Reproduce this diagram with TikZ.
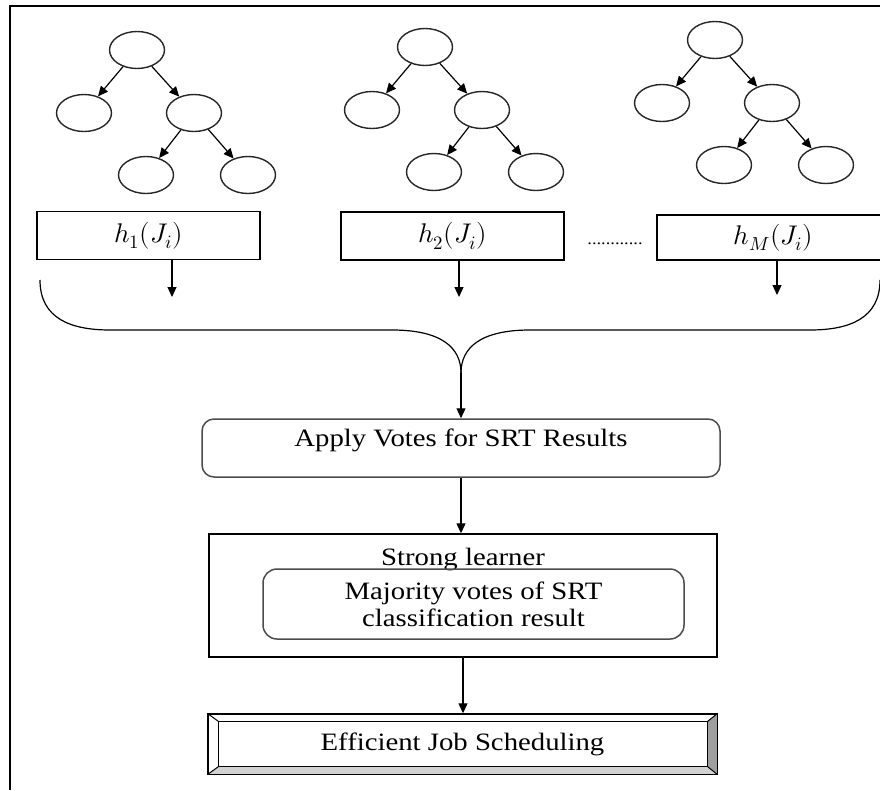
\documentclass[tikz,border=0pt]{standalone}
\usepackage{fontspec}
\usepackage{unicode-math}
\setmainfont{Liberation Serif}[FakeStretch=1.15]
\usetikzlibrary{positioning, arrows.meta, shapes.geometric, calc}

\begin{document}
\begin{tikzpicture}[
    x=1pt, y=-1pt,
    leaf/.style={draw=black!85, ellipse, line width=1.4pt, minimum width=55pt, minimum height=37pt, inner sep=0pt},
    hbox/.style={draw, rectangle, line width=1.2pt, minimum width=223pt, minimum height=48pt, inner sep=0pt, font=\fontsize{27}{30}\selectfont},
    rbox/.style={draw=black!70, rectangle, rounded corners=12pt, line width=1.5pt, align=center, inner sep=0pt, font=\fontsize{25}{27}\selectfont},
    sbox/.style={draw, rectangle, line width=1.4pt, inner sep=0pt, font=\fontsize{25}{27}\selectfont},
    arr/.style={-{Triangle[length=10pt, width=9pt]}, line width=1.2pt}
]
    \useasboundingbox (0,0) rectangle (880,790);
    \clip (0,0) rectangle (880,790);
    \draw[line width=1.3pt] (10,790) -- (10,6) -- (880,6);

    \foreach \t/\rx/\ry in {1/137/50, 2/425/47, 3/715/40} {
        \node[leaf] (root\t) at (\rx,\ry) {};
        \node[leaf] (lc\t) at ($(root\t)+(-53,63)$) {};
        \node[leaf] (rc\t) at ($(root\t)+(57,63)$) {};
        \node[leaf] (ga\t) at ($(root\t)+(9,125)$) {};
        \node[leaf] (gb\t) at ($(root\t)+(111,125)$) {};
        \draw[arr] (root\t) -- (lc\t);
        \draw[arr] (root\t) -- (rc\t);
        \draw[arr] (rc\t) -- (ga\t);
        \draw[arr] (rc\t) -- (gb\t);
    }

    \node[hbox] (h1) at (148.5,235.5) {$h_1(J_i)$};
    \node[hbox] (h2) at (452.5,236) {$h_2(J_i)$};
    \node[hbox, minimum width=233pt, minimum height=45pt] (h3) at (773.5,237.5) {$h_M(J_i)$};
    \node[font=\fontsize{16}{16}\selectfont] (gap) at (615,244) {............};

    \coordinate (t1) at (172,297);
    \coordinate (t2) at (459,297);
    \coordinate (t3) at (777,295);
    \draw[arr] (h1.south -| t1) -- (t1);
    \draw[arr] (h2.south -| t2) -- (t2);
    \draw[arr] (h3.south -| t3) -- (t3);

    \coordinate (bl) at (40,280);
    \coordinate (br) at (880,280);
    \coordinate (mid) at (461,373);
    \draw[line width=1.2pt] (bl) .. controls (40,318) and (70,330) .. (110,330) -- (392,330) .. controls (442,330) and (461,348) .. (mid);
    \draw[line width=1.2pt] (br) .. controls (880,318) and (850,330) .. (810,330) -- (530,330) .. controls (480,330) and (461,348) .. (mid);

    \node[rbox, minimum width=518pt, minimum height=58pt, text height=17pt, text depth=20pt] (apply) at (461,448) {Apply Votes for SRT Results};
    \node[sbox, minimum width=508pt, minimum height=123pt, text height=17pt, text depth=77pt] (strong) at (463,595.5) {Strong learner};
    \node[rbox, rounded corners=14pt, minimum width=421pt, minimum height=70pt] (major) at (473.5,604) {Majority votes of SRT\\classification result};
    \node[sbox, minimum width=509pt, minimum height=60pt] (sched) at (462.5,744) {Efficient Job Scheduling};

    \draw[arr] (mid) -- (mid |- apply.north);
    \draw[arr] (apply.south) -- (apply.south |- strong.north);
    \draw[arr] (strong.south) -- (strong.south |- sched.north);

    \coordinate (inw) at ($(sched.north west)+(11,8)$);
    \coordinate (ine) at ($(sched.north east)+(-10,8)$);
    \coordinate (ise) at ($(sched.south east)+(-10,-8)$);
    \coordinate (isw) at ($(sched.south west)+(11,-8)$);
    \fill[gray!35] (sched.south west) -- (sched.south east) -- (ise) -- (isw) -- cycle;
    \fill[gray!75] (sched.south east) -- (sched.north east) -- (ine) -- (ise) -- cycle;
    \draw[line width=1.2pt] (inw) rectangle (ise);
    \draw[line width=1pt] (sched.north west) -- (inw) (sched.north east) -- (ine) (sched.south east) -- (ise) (sched.south west) -- (isw);
    \draw[line width=1.4pt] (sched.south west) rectangle (sched.north east);
\end{tikzpicture}
\end{document}
